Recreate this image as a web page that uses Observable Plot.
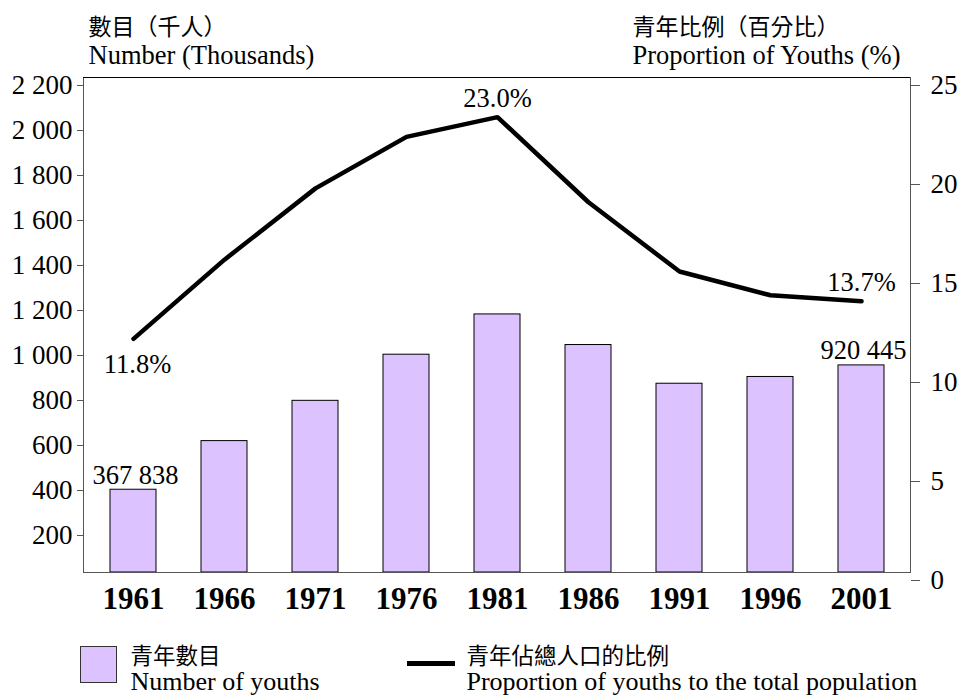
<!DOCTYPE html>
<html><head><meta charset="utf-8">
<script src="https://cdn.jsdelivr.net/npm/d3@7"></script>
<script src="https://cdn.jsdelivr.net/npm/@observablehq/plot@0.6"></script>
<style>
body{margin:0;background:#fff;}
#wrap{position:relative;width:959px;height:700px;}
#wrap svg text{font-family:'Liberation Serif','Noto Sans CJK TC','Noto Sans CJK SC',serif !important;font-variant:normal !important;font-variant-numeric:normal !important;}
.sw{position:absolute;box-sizing:border-box;}
</style></head><body><div id="wrap"></div>
<script>
// ---- data ----
const years = ["1961","1966","1971","1976","1981","1986","1991","1996","2001"];
const youthsThousands = [367.838, 584, 763, 968, 1147, 1011, 839, 869, 920.445];
const proportion = [11.8, 15.8, 19.4, 22.0, 23.0, 18.7, 15.2, 14.0, 13.7];
const leftTicks = [200, 400, 600, 800, 1000, 1200, 1400, 1600, 1800, 2000, 2200];
const rightTicks = [0, 5, 10, 15, 20, 25];
const barLabelYears = ["1961", "2001"];
const lineLabelAbove = ["1981", "2001"];
const lineLabelBelow = ["1961"];
const titleLeft = ["數目（千人）", "Number (Thousands)"];
const titleRight = ["青年比例（百分比）", "Proportion of Youths (%)"];
const legendBar = ["青年數目", "Number of youths"];
const legendLine = ["青年佔總人口的比例", "Proportion of youths to the total population"];

const yMax = 2200, pMax = 25;
const K = yMax / pMax; // maps the percentage axis onto the thousands axis
const rows = years.map((y, i) => ({year: y, n: youthsThousands[i], p: proportion[i]}));
const fmtSpace = v => d3.format(",")(v).replace(/,/g, " ");
const serif = "Liberation Serif";
const lavender = "#dcc2fe";

const plot = Plot.plot({
  width: 959, height: 700,
  marginTop: 77, marginBottom: 128, marginLeft: 83, marginRight: 49,
  style: {fontFamily: serif, fontSize: "26px", color: "#000", background: "transparent", overflow: "visible"},
  x: {type: "band", domain: years, paddingInner: 0.5, paddingOuter: 0.25},
  y: {domain: [0, yMax]},
  marks: [
    Plot.barY(rows, {x: "year", y: "n", fill: lavender, stroke: "#000", strokeWidth: 1}),
    Plot.frame({stroke: "#555", strokeWidth: 1}),
    Plot.ruleY([yMax], {stroke: "#000", strokeWidth: 1}),
    Plot.lineY(rows, {x: "year", y: d => d.p * K, stroke: "#000", strokeWidth: 4.5, strokeLinejoin: "miter"}),
    Plot.axisY({anchor: "left", ticks: leftTicks, tickFormat: fmtSpace, tickSize: 6, tickPadding: 5, dy: 8, label: null, stroke: "#555", fontSize: 27}),
    Plot.axisY({anchor: "right", ticks: rightTicks.map(v => v * K), tickFormat: d => String(Math.round(d / K)), tickSize: 9, tickPadding: 11, dy: 8, label: null, stroke: "#555", fontSize: 27}),
    Plot.axisX({tickSize: 0, tickPadding: 14, fontWeight: "bold", fontSize: 31, label: null}),
    Plot.text(rows.filter(d => barLabelYears.includes(d.year)), {x: "year", y: "n", text: d => fmtSpace(Math.round(d.n * 1000)), lineAnchor: "bottom", dy: -6, dx: 2, fontSize: 26.5}),
    Plot.text(rows.filter(d => lineLabelAbove.includes(d.year)), {x: "year", y: d => d.p * K, text: d => d.p.toFixed(1) + "%", lineAnchor: "bottom", dy: -10, fontSize: 26.5}),
    Plot.text(rows.filter(d => lineLabelBelow.includes(d.year)), {x: "year", y: d => d.p * K, text: d => d.p.toFixed(1) + "%", lineAnchor: "bottom", dx: 4, dy: 34, fontSize: 26.5}),
    // titles
    Plot.text([titleLeft[0]], {frameAnchor: "top-left", text: d => d, textAnchor: "start", lineAnchor: "bottom", dx: 5, dy: -43, fontSize: 23}),
    Plot.text([titleLeft[1]], {frameAnchor: "top-left", text: d => d, textAnchor: "start", lineAnchor: "bottom", dx: 5, dy: -14, fontSize: 26.5}),
    Plot.text([titleRight[0]], {frameAnchor: "top-right", text: d => d, textAnchor: "start", lineAnchor: "bottom", dx: -278, dy: -43, fontSize: 23}),
    Plot.text([titleRight[1]], {frameAnchor: "top-right", text: d => d, textAnchor: "start", lineAnchor: "bottom", dx: -278, dy: -14, fontSize: 26.5}),
    // legend texts
    Plot.text([legendBar[0]], {frameAnchor: "bottom-left", text: d => d, textAnchor: "start", lineAnchor: "bottom", dx: 47, dy: 91, fontSize: 22.5}),
    Plot.text([legendBar[1]], {frameAnchor: "bottom-left", text: d => d, textAnchor: "start", lineAnchor: "bottom", dx: 47, dy: 117, fontSize: 26}),
    Plot.text([legendLine[0]], {frameAnchor: "bottom-left", text: d => d, textAnchor: "start", lineAnchor: "bottom", dx: 383, dy: 91, fontSize: 22.5}),
    Plot.text([legendLine[1]], {frameAnchor: "bottom-left", text: d => d, textAnchor: "start", lineAnchor: "bottom", dx: 383, dy: 117, fontSize: 26})
  ]
});
const wrap = document.getElementById("wrap");
wrap.appendChild(plot);
// legend swatches
const s1 = document.createElement("div");
s1.className = "sw";
Object.assign(s1.style, {left: "80px", top: "646px", width: "37px", height: "37px", background: lavender, border: "1px solid #333"});
wrap.appendChild(s1);
const s2 = document.createElement("div");
s2.className = "sw";
Object.assign(s2.style, {left: "407px", top: "661px", width: "48px", height: "5px", background: "#000"});
wrap.appendChild(s2);
</script>
</body></html>
